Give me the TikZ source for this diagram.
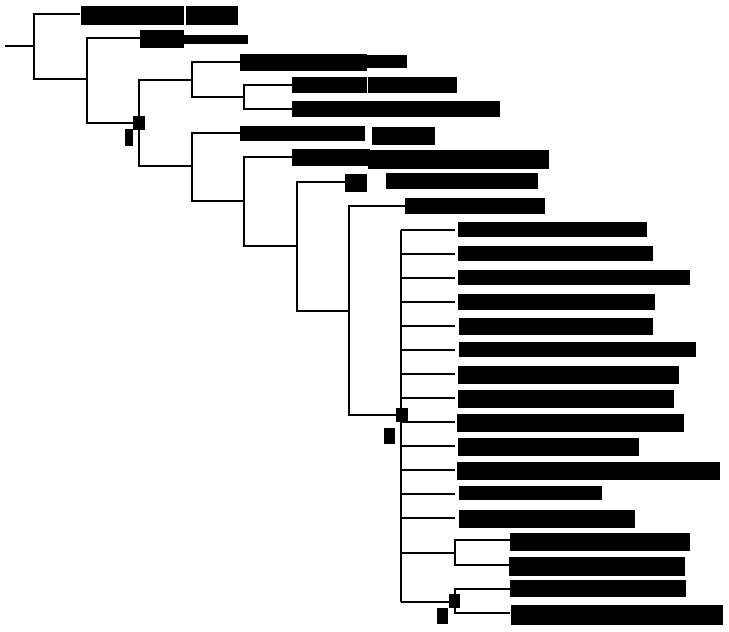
\documentclass[tikz,border=0pt]{standalone}
\begin{document}
\begin{tikzpicture}[x=1pt,y=-1pt,br/.style={line width=1.6pt},bx/.style={fill=black}]
\useasboundingbox (0,0) rectangle (729,632);
\def\bb#1#2#3#4{\fill (#1,#2) rectangle (#3,#4);}
% root
\draw[br] (5,46)--(34,46);
\draw[br] (80,14)--(34,14)--(34,79)--(87,79);
\bb{81}{6}{184}{25}\bb{186}{6}{238}{25}
\draw[br] (140,38)--(87,38)--(87,123)--(139,123);
\bb{140}{30}{184}{48}\bb{184}{35}{248}{44}
\bb{133}{116}{145}{130}\bb{125}{129}{133}{146}
\draw[br] (192,80)--(139,80)--(139,166)--(192,166);
\draw[br] (240,62)--(192,62)--(192,97)--(244,97);
\bb{240}{54}{367}{71}\bb{367}{55}{407}{68}
\draw[br] (292,85)--(244,85)--(244,109)--(292,109);
\bb{292}{77}{367}{93}\bb{368}{77}{457}{93}
\bb{292}{101}{500}{117}
\draw[br] (240,133)--(192,133)--(192,201)--(244,201);
\bb{240}{126}{365}{141}\bb{372}{127}{435}{145}
\draw[br] (292,157)--(244,157)--(244,246)--(297,246);
\bb{292}{149}{370}{166}\bb{368}{150}{549}{169}
\draw[br] (345,182)--(297,182)--(297,311)--(349,311);
\bb{345}{174}{367}{192}\bb{386}{173}{538}{189}
\draw[br] (405,206)--(349,206)--(349,415)--(401,415);
\bb{405}{198}{545}{214}
\bb{396}{408}{408}{422}\bb{384}{428}{395}{444}
\draw[br] (401,230)--(401,602);
\foreach \y/\a/\b/\c in {230/458/647/15,254/458/653/15,278/458/690/15,302/458/655/16,326/459/653/17,350/459/696/15,374/458/679/18,398/458/674/18,422/457/684/18,446/458/639/18,470/457/720/18,494/459/602/14,518/459/635/18}{
  \draw[br] (401,\y)--(455,\y);
  \fill (\a,\y-8) rectangle (\b,\y-8+\c);
}
\draw[br] (401,553)--(455,553);
\draw[br] (510,540)--(455,540)--(455,565)--(510,565);
\bb{510}{533}{690}{551}\bb{509}{557}{685}{576}
\draw[br] (401,602)--(455,602);
\draw[br] (510,589)--(455,589)--(455,613)--(510,613);
\bb{510}{580}{686}{597}\bb{511}{605}{723}{625}
\bb{449}{594}{460}{608}\bb{437}{608}{448}{624}
\end{tikzpicture}
\end{document}
